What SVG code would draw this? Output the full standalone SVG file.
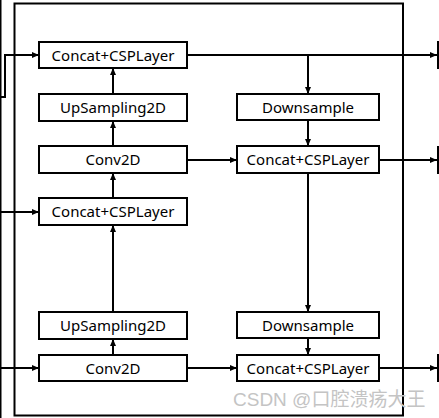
<svg xmlns="http://www.w3.org/2000/svg" width="439" height="418" viewBox="0 0 439 418">
<defs>
<marker id="ah" markerUnits="userSpaceOnUse" markerWidth="8" markerHeight="8" refX="7" refY="4" orient="auto">
<path d="M0,1 L7,4 L0,7 Z" fill="#000"/>
</marker>
<style>
.box{fill:#fff;stroke:#000;stroke-width:2}
.lbl{font-family:"Noto Sans","Open Sans",sans-serif;font-size:15px;fill:#000;text-anchor:middle}
.ln{fill:none;stroke:#000;stroke-width:2}
.ar{fill:none;stroke:#000;stroke-width:2;marker-end:url(#ah)}
</style>
</defs>
<rect width="439" height="418" fill="#fff"/>
<rect id="frame" x="14.5" y="3.5" width="388.5" height="412" fill="none" stroke="#000" stroke-width="2"/>
<g id="connectors">
<line class="ln" x1="0.5" y1="0" x2="0.5" y2="418" stroke-width="1"/>
<path class="ar" d="M1,97 H5 V55 H39"/>
<line class="ar" x1="0" y1="212" x2="39" y2="212"/>
<line class="ar" x1="0" y1="368" x2="39" y2="368"/>
<line class="ar" x1="113" y1="355" x2="113" y2="339"/>
<line class="ar" x1="113" y1="312" x2="113" y2="225"/>
<line class="ar" x1="113" y1="198" x2="113" y2="173"/>
<line class="ar" x1="113" y1="146" x2="113" y2="121"/>
<line class="ar" x1="113" y1="94" x2="113" y2="68"/>
<line class="ar" x1="187" y1="55" x2="437" y2="55"/>
<line class="ar" x1="308" y1="55" x2="308" y2="94"/>
<line class="ar" x1="308" y1="120" x2="308" y2="146"/>
<line class="ar" x1="187" y1="160" x2="237" y2="160"/>
<line class="ar" x1="379" y1="160" x2="437" y2="160"/>
<line class="ar" x1="308" y1="173" x2="308" y2="312"/>
<line class="ar" x1="308" y1="338" x2="308" y2="355"/>
<line class="ar" x1="187" y1="368" x2="237" y2="368"/>
<line class="ar" x1="379" y1="368" x2="437" y2="368"/>
<line class="ln" x1="438" y1="41" x2="438" y2="69"/>
<line class="ln" x1="438" y1="146" x2="438" y2="174"/>
<line class="ln" x1="438" y1="354" x2="438" y2="382"/>
</g>
<g id="concat1"><rect class="box" x="39" y="42" width="148" height="26"/><text class="lbl" x="113" y="60.5">Concat+CSPLayer</text></g>
<g id="upsample1"><rect class="box" x="39" y="94" width="148" height="27"/><text class="lbl" x="113" y="113">UpSampling2D</text></g>
<g id="conv1"><rect class="box" x="39" y="146" width="148" height="27"/><text class="lbl" x="113" y="165">Conv2D</text></g>
<g id="concat2"><rect class="box" x="39" y="198" width="148" height="27"/><text class="lbl" x="113" y="217">Concat+CSPLayer</text></g>
<g id="upsample2"><rect class="box" x="39" y="312" width="148" height="27"/><text class="lbl" x="113" y="331">UpSampling2D</text></g>
<g id="conv2"><rect class="box" x="39" y="355" width="148" height="26"/><text class="lbl" x="113" y="373.5">Conv2D</text></g>
<g id="down1"><rect class="box" x="237" y="94" width="142" height="26"/><text class="lbl" x="308" y="112.5">Downsample</text></g>
<g id="concat3"><rect class="box" x="237" y="146" width="142" height="27"/><text class="lbl" x="308" y="165">Concat+CSPLayer</text></g>
<g id="down2"><rect class="box" x="237" y="312" width="142" height="26"/><text class="lbl" x="308" y="330.5">Downsample</text></g>
<g id="concat4"><rect class="box" x="237" y="355" width="142" height="26"/><text class="lbl" x="308" y="373.5">Concat+CSPLayer</text></g>
<text x="233" y="406" font-family="'Liberation Sans','Noto Sans CJK SC',sans-serif" font-size="19" fill="#c4c4c4">CSDN @口腔溃疡大王</text>
</svg>
